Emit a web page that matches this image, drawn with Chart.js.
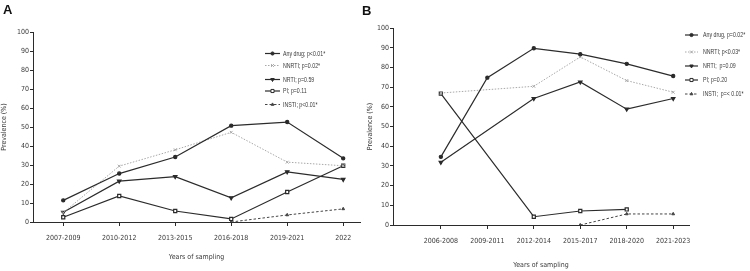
<!DOCTYPE html>
<html>
<head>
<meta charset="utf-8">
<script src="https://cdn.jsdelivr.net/npm/chart.js@4.4.1/dist/chart.umd.min.js"></script>
<style>
    html, body { margin: 0; padding: 0; background: #fff; }
    #wrap { position: relative; width: 750px; height: 271px; overflow: hidden; }
    canvas { position: absolute; top: 0; }
    #chartA { left: 0; }
    #chartB { left: 366px; }
</style>
</head>
<body>
<div id="wrap">
    <canvas id="chartA" width="374" height="271"></canvas>
    <canvas id="chartB" width="384" height="271"></canvas>
</div>
<script>
// Panel A
const catsA = ["2007-2009", "2010-2012", "2013-2015", "2016-2018", "2019-2021", "2022"];
const anyA = [11.4, 25.5, 34.2, 50.7, 52.6, 33.5];
const nnrtiA = [4.9, 29.4, 38, 47.2, 31.5, 29.6];
const nrtiA = [5.1, 21.5, 23.9, 12.7, 26.4, 22.4];
const piA = [2.5, 13.7, 5.8, 1.6, 15.8, 29.6];
const instiA = [null, null, null, 0, 3.7, 6.9];
const labelsA = ["Any drug; p<0.01*", "NNRTI; p=0.02*", "NRTI; p=0.59", "PI; p=0.11", "INSTI; p<0.01*"];

// Panel B
const catsB = ["2006-2008", "2009-2011", "2012-2014", "2015-2017", "2018-2020", "2021-2023"];
const anyB = [34.6, 74.8, 89.7, 86.7, 81.8, 75.6];
const nnrtiB = [67, null, 70.4, 85.3, 73.3, 67.4];
const nrtiB = [31.8, null, 64.2, 72.6, 58.8, 64.2];
const piB = [66.7, null, 4.2, 7.1, 7.9, null];
const instiB = [null, null, null, 0, 5.6, 5.6];
const labelsB = ["Any drug, p=0.02*", "NNRTI; p<0.03*", "NRTI;  p=0.09", "PI; p=0.20", "INSTI;  p=< 0.01*"];

const yTicks = [0, 10, 20, 30, 40, 50, 60, 70, 80, 90, 100];

const FONT = "'DejaVu Sans Condensed', 'Liberation Sans Narrow', 'Liberation Sans', sans-serif";
const INK = "#2b2b2b";
const TXT = "#3a3a3a";

function pts(values) {
    return values.map((v, i) => ({ x: i, y: v }));
}

function makeDatasets(labels, any, nnrti, nrti, pi, insti) {
    return [
        { label: labels[0], data: pts(any), borderColor: INK, backgroundColor: INK, pointBackgroundColor: INK,
          borderWidth: 1.2, pointStyle: "circle", pointRadius: 1.6 },
        { label: labels[1], data: pts(nnrti), borderColor: "#a8a8a8", backgroundColor: "#a8a8a8", pointBackgroundColor: "#fff",
          borderWidth: 1, borderDash: [1.5, 1.5], pointStyle: "crossRot", pointRadius: 2 },
        { label: labels[2], data: pts(nrti), borderColor: INK, backgroundColor: INK, pointBackgroundColor: INK,
          borderWidth: 1.2, pointStyle: "triangle", pointRotation: 180, pointRadius: 2 },
        { label: labels[3], data: pts(pi), borderColor: INK, backgroundColor: "#fff", pointBackgroundColor: "#fff",
          borderWidth: 1.2, pointStyle: "rect", pointRadius: 2.2 },
        { label: labels[4], data: pts(insti), borderColor: "#444", backgroundColor: "#444", pointBackgroundColor: "#444",
          borderWidth: 1, borderDash: [2.5, 2], pointStyle: "triangle", pointRadius: 1.6 },
    ];
}

// legend drawn beside the plot, text squeezed to look like a narrow face
const sideLegend = {
    id: "sideLegend",
    afterDraw(chart, args, opts) {
        const ctx = chart.ctx;
        const sx = 0.7;
        ctx.save();
        chart.data.datasets.forEach((ds, i) => {
            const y = opts.ys[i];
            ctx.strokeStyle = ds.borderColor;
            ctx.lineWidth = ds.borderWidth;
            ctx.setLineDash(ds.borderDash || []);
            ctx.beginPath();
            ctx.moveTo(opts.x, y);
            ctx.lineTo(opts.x + opts.len, y);
            ctx.stroke();
            ctx.setLineDash([]);
            ctx.fillStyle = ds.pointBackgroundColor;
            ctx.lineWidth = 1;
            Chart.helpers.drawPoint(ctx, {
                pointStyle: ds.pointStyle, rotation: ds.pointRotation || 0,
                radius: ds.pointRadius, borderWidth: 1,
            }, opts.x + opts.len / 2, y);
            ctx.save();
            ctx.fillStyle = TXT;
            ctx.font = "7.5px 'Liberation Sans', Arial, sans-serif";
            ctx.textBaseline = "middle";
            ctx.scale(sx, 1);
            ctx.fillText(ds.label, (opts.x + opts.len + opts.gap) / sx, y);
            ctx.restore();
        });
        (opts.letters || []).forEach((l) => {
            ctx.fillStyle = "#111";
            ctx.font = "bold 13px 'Liberation Sans', Arial, sans-serif";
            ctx.textBaseline = "top";
            ctx.fillText(l.text, l.x, l.y);
        });
        ctx.restore();
    },
};

function makeChart(id, cats, datasets, cfg) {
    return new Chart(document.getElementById(id).getContext("2d"), {
        type: "line",
        data: { datasets },
        plugins: [sideLegend],
        options: {
            responsive: false,
            animation: false,
            spanGaps: true,
            layout: { padding: { top: cfg.top, right: cfg.right, left: 0, bottom: 0 } },
            elements: { line: { tension: 0 } },
            plugins: {
                legend: { display: false },
                tooltip: { enabled: false },
                sideLegend: cfg.legend,
            },
            scales: {
                x: {
                    type: "linear",
                    min: cfg.xmin,
                    max: cfg.xmax,
                    afterFit: (s) => { s.height = cfg.xh; },
                    afterBuildTicks: (s) => { s.ticks = cats.map((c, i) => ({ value: i })); },
                    border: { display: true, color: INK, width: 1 },
                    grid: { display: true, drawOnChartArea: false, drawTicks: true, tickLength: 4, color: INK },
                    ticks: {
                        autoSkip: false, maxRotation: 0,
                        color: TXT, font: { family: FONT, size: 7 }, padding: 8,
                        callback: (v) => cats[v],
                    },
                    title: {
                        display: true, text: "Years of sampling", color: TXT,
                        font: { family: FONT, size: 7 }, padding: { top: 0, bottom: cfg.titleBottom },
                    },
                },
                y: {
                    min: 0,
                    max: 100,
                    afterFit: (s) => { s.width = cfg.yw; },
                    afterBuildTicks: (s) => { s.ticks = yTicks.map((v) => ({ value: v })); },
                    border: { display: true, color: INK, width: 1 },
                    grid: { display: true, drawOnChartArea: false, drawTicks: true, tickLength: 3, color: INK },
                    ticks: { color: TXT, font: { family: FONT, size: 7 }, padding: 1 },
                    title: {
                        display: true, text: "Prevalence (%)", color: TXT,
                        font: { family: FONT, size: 7 }, padding: { top: 0, bottom: 0 },
                    },
                },
            },
        },
    });
}

makeChart("chartA", catsA, makeDatasets(labelsA, anyA, nnrtiA, nrtiA, piA, instiA), {
    top: 32, right: 14, xh: 49, yw: 33, xmin: -0.54, xmax: 5.3, titleBottom: 10,
    legend: {
        x: 265, len: 15, gap: 3, ys: [53.5, 65.5, 79.5, 91, 104.5],
        letters: [{ text: "A", x: 3, y: 4 }, { text: "B", x: 362, y: 5 }],
    },
});

makeChart("chartB", catsB, makeDatasets(labelsB, anyB, nnrtiB, nrtiB, piB, instiB), {
    top: 28, right: 61, xh: 46, yw: 27, xmin: -1.03, xmax: 5.34, titleBottom: 2,
    legend: { x: 319, len: 13, gap: 5, ys: [35, 52, 66, 80, 94] },
});
</script>
</body>
</html>
